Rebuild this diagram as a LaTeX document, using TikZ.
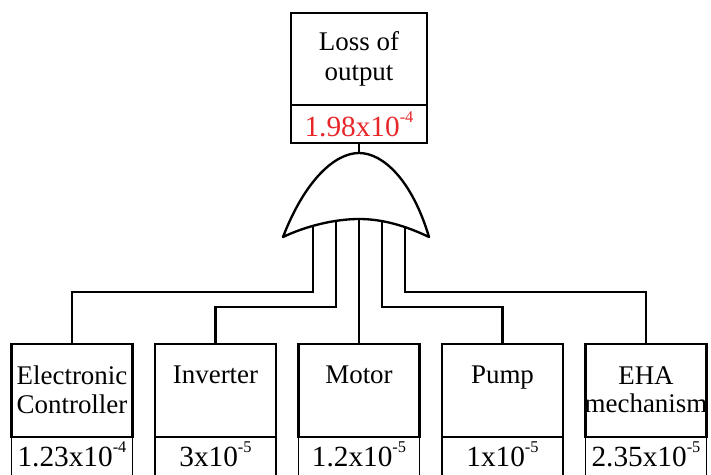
\documentclass[tikz,border=0pt]{standalone}
\usepackage{fontspec}
\setmainfont{Liberation Serif}
\usetikzlibrary{positioning}
\definecolor{valred}{HTML}{E8262A}

\tikzset{
  namebox/.style={draw, line width=2.4pt, minimum width=3.63cm, minimum height=2.79cm, inner sep=0pt, outer sep=0pt},
  valbox/.style={draw, line width=1.6pt, minimum width=3.63cm, minimum height=1.29cm, inner sep=0pt, outer sep=0pt},
  nametext/.style={align=center, inner sep=0pt, font=\fontsize{23}{24}\selectfont},
  valtext/.style={inner sep=0pt, anchor=base, font=\fontsize{25}{26}\selectfont},
  wire/.style={line width=1.9pt},
  gate/.style={line width=2pt, line join=round}
}
\newcommand{\expo}[1]{\raisebox{1.0ex}{\fontsize{14}{14}\selectfont #1}}

\begin{document}
\begin{tikzpicture}[x=0.03cm,y=-0.03cm]
\useasboundingbox (0,0) rectangle (711,474);

% top event
\node[namebox, minimum width=4.08cm, minimum height=2.76cm, nametext, font=\fontsize{23}{25.5}\selectfont, inner sep=0pt] (top) at (359,59) {Loss of\\output};
\node[valbox, line width=2.4pt, minimum width=4.08cm, minimum height=1.14cm, below=0pt of top] (topval) {};
\node[valtext, text=valred] (topnum) at ([yshift=-0.93cm] topval.north) {1.98x10\expo{-4}};

% OR gate
\draw[gate] (283,237) .. controls (305,180) and (335,153) .. (359,153)
  .. controls (383,153) and (412,180) .. (429,237)
  .. controls (406,226) and (383,219) .. (359,219)
  .. controls (335,219) and (306,226) .. (283,237) -- cycle;
\coordinate (gout) at (359,153);
\coordinate (in1) at (313,227);
\coordinate (in2) at (336,222);
\coordinate (in3) at (359,219);
\coordinate (in4) at (382,222);
\coordinate (in5) at (405,227);

\draw[wire] (topval.south) -- (gout);

% basic events
\foreach \i/\x/\lab/\val in {1/72/{Electronic\\Controller}/{1.23x10\expo{-4}},
  2/215.5/{Inverter}/{3x10\expo{-5}},
  3/359/{Motor}/{1.2x10\expo{-5}},
  4/502.5/{Pump}/{1x10\expo{-5}},
  5/646/{EHA\\mechanism}/{2.35x10\expo{-5}}} {
\node[namebox] (box\i) at (\x,390.5) {};
\node[nametext, anchor=north] (name\i) at ([yshift=-0.66cm] box\i.north) {\lab};
\node[valbox, below=0pt of box\i] (val\i) {};
\node[valtext] (num\i) at ([yshift=-0.88cm] val\i.north) {\val};
}

% connectors
\draw[wire] (in1) -- ++(0,65) -| (box1.north);
\draw[wire] (in2) -- ++(0,85) -| (box2.north);
\draw[wire] (in3) -- (box3.north);
\draw[wire] (in4) -- ++(0,85) -| (box4.north);
\draw[wire] (in5) -- ++(0,65) -| (box5.north);

\end{tikzpicture}
\end{document}
